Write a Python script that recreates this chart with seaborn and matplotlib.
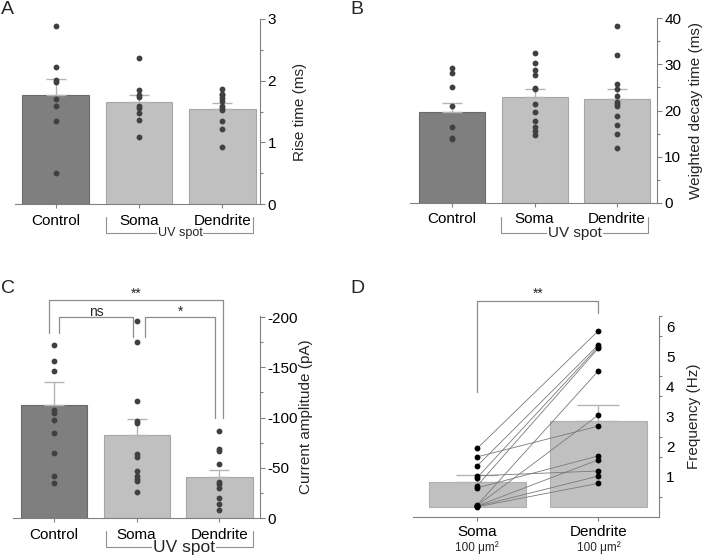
import numpy as np
import pandas as pd
import matplotlib
matplotlib.use('Agg')
import matplotlib.pyplot as plt
from matplotlib.ticker import MultipleLocator, FixedLocator, FuncFormatter
import seaborn as sns

sns.set_theme(style='white')
plt.rcParams['font.family'] = ['Liberation Sans', 'DejaVu Sans']

# ---- data ----
groups = ['Control', 'Soma', 'Dendrite']

# A: rise time (ms)
rise_control = [2.88, 2.22, 2.01, 1.98, 1.70, 1.59, 1.35, 0.50]
rise_soma = [2.36, 1.85, 1.77, 1.74, 1.59, 1.55, 1.48, 1.37, 1.09]
rise_dend = [1.86, 1.79, 1.76, 1.72, 1.67, 1.59, 1.56, 1.53, 1.35, 1.22, 0.92]
rise_mean = [1.77, 1.65, 1.54]
rise_sem = [0.25, 0.11, 0.09]

# B: weighted decay time (ms)
decay_control = [29.3, 28.1, 25.2, 21.0, 16.5, 14.1, 13.8]
decay_soma = [32.5, 30.2, 28.8, 27.8, 24.9, 24.6, 21.5, 19.7, 17.8, 16.5, 15.6, 14.7]
decay_dend = [38.3, 32.1, 25.8, 24.6, 23.1, 21.9, 21.5, 21.0, 18.8, 16.9, 14.8, 11.9]
decay_mean = [19.6, 22.9, 22.5]
decay_sem = [2.0, 1.7, 2.1]

# C: current amplitude (-pA)
amp_control = [171.7, 156.3, 146.3, 107.3, 104.3, 98.0, 84.7, 64.7, 41.7, 35.0]
amp_soma = [195.7, 174.7, 116.3, 96.7, 94.3, 64.0, 61.0, 47.3, 41.7, 39.0, 36.7, 26.0]
amp_dend = [86.7, 69.3, 67.3, 54.0, 36.3, 33.7, 30.0, 19.7, 14.7, 8.3]
amp_mean = [112.7, 83.0, 41.0]
amp_sem = [22.3, 16.0, 7.0]

# D: paired frequency (Hz)
d_groups = ['Soma', 'Dendrite']
freq_soma = [1.94, 1.66, 1.36, 1.03, 0.97, 0.70, 0.63, 0.06, 0.04, 0.03, 0.02, 0.00]
freq_dend = [5.85, 2.68, 5.38, 1.19, 5.32, 5.27, 1.69, 4.52, 3.05, 1.56, 1.02, 0.78]
freq_mean = [0.83, 2.85]
freq_sem = [0.23, 0.53]

bar_fill = ['#7f7f7f', '#c0c0c0', '#c0c0c0']
bar_edge = ['#6a6a6a', '#a6a6a6', '#a6a6a6']
d_fill = ['#c0c0c0', '#c0c0c0']
d_edge = ['#b0b0b0', '#b0b0b0']
axis_col = '#808080'

W, H = 703, 558
fig = plt.figure(figsize=(W / 100, H / 100), dpi=100)


def px_axes(left, top, right, bottom):
    return fig.add_axes([left / W, 1 - bottom / H, (right - left) / W, (bottom - top) / H])


def long_df(lists):
    rows = [(i, v) for i, vals in enumerate(lists) for v in vals]
    return pd.DataFrame(rows, columns=['pos', 'value'])


def style(ax, labels):
    for s in ['left', 'top']:
        ax.spines[s].set_visible(False)
    for s in ['right', 'bottom']:
        ax.spines[s].set_visible(True)
        ax.spines[s].set_color(axis_col)
        ax.spines[s].set_linewidth(0.8)
    ax.yaxis.tick_right()
    ax.yaxis.set_label_position('right')
    ax.tick_params(axis='y', which='both', right=True, left=False, direction='out',
                   color=axis_col, width=0.8, labelsize=11, pad=2, labelcolor='black')
    ax.tick_params(axis='y', which='major', length=3.5)
    ax.tick_params(axis='y', which='minor', length=2.5)
    ax.tick_params(axis='x', bottom=True, direction='out', length=3, color=axis_col,
                   width=0.8, labelsize=11, pad=4, labelcolor='black')
    ax.set_xticks(range(len(labels)))
    ax.set_xticklabels(labels)
    ax.set_xlabel('')
    ax.set_facecolor('white')
    ax.grid(False)


def bar_panel(ax, lists, means, sems, fills, edges, capsize=7.5, pt_color='#404040'):
    idx = list(range(len(means)))
    sns.barplot(x=idx, y=means, color='#c0c0c0', saturation=1, width=0.8,
                linewidth=0.8, ax=ax, zorder=1)
    for p, fc, ec in zip(ax.patches, fills, edges):
        p.set_facecolor(fc)
        p.set_edgecolor(ec)
    ax.errorbar(idx, means, yerr=[np.zeros(len(means)), sems], fmt='none',
                ecolor='#b4b4b4', elinewidth=1, capsize=capsize, capthick=1, zorder=2)
    sns.stripplot(data=long_df(lists), x='pos', y='value', jitter=False,
                  color=pt_color, size=4.2, linewidth=0, ax=ax, zorder=3)


def uv_bracket(ax, x0, x1, ybar, ytop, tx, fs):
    tr = ax.get_xaxis_transform()
    ax.plot([x0, x0, x1, x1], [ytop, ybar, ybar, ytop], transform=tr, clip_on=False,
            color='#909090', lw=0.8)
    ax.text(tx, ybar, 'UV spot', transform=tr, ha='center', va='center', fontsize=fs,
            bbox=dict(facecolor='white', edgecolor='none', pad=0.5))


def sig_bracket(ax, x0, x1, y, y0, y1, label, ty, color='#8c8c8c'):
    ax.plot([x0, x0, x1, x1], [y0, y, y, y1], color=color, lw=0.9, clip_on=False)
    ax.text((x0 + x1) / 2, ty, label, ha='center', va='center', fontsize=10)


# ---- A ----
axA = px_axes(15, 19, 260, 204)
bar_panel(axA, [rise_control, rise_soma, rise_dend], rise_mean, rise_sem, bar_fill, bar_edge)
style(axA, groups)
axA.set_ylim(0, 3)
axA.set_xlim(-0.49, 2.45)
axA.yaxis.set_major_locator(MultipleLocator(1))
axA.yaxis.set_minor_locator(MultipleLocator(0.5))
axA.set_ylabel('Rise time (ms)', fontsize=11)
axA.yaxis.set_label_coords(1.135, 0.5)
uv_bracket(axA, 0.6, 2.37, -0.157, -0.07, 1.49, 9)

# ---- B ----
axB = px_axes(410, 18.3, 656.7, 202.7)
bar_panel(axB, [decay_control, decay_soma, decay_dend], decay_mean, decay_sem, bar_fill, bar_edge)
style(axB, groups)
axB.set_ylim(0, 40)
axB.set_xlim(-0.51, 2.48)
axB.yaxis.set_major_locator(MultipleLocator(10))
axB.yaxis.set_minor_locator(MultipleLocator(5))
axB.set_ylabel('Weighted decay time (ms)', fontsize=11)
axB.yaxis.set_label_coords(1.13, 0.5)
uv_bracket(axB, 0.59, 2.37, -0.166, -0.076, 1.49, 11)

# ---- C ----
axC = px_axes(13.3, 316, 260, 518.3)
bar_panel(axC, [amp_control, amp_soma, amp_dend], amp_mean, amp_sem, bar_fill, bar_edge)
style(axC, groups)
axC.set_ylim(0, 201)
axC.set_xlim(-0.49, 2.49)
axC.yaxis.set_major_locator(FixedLocator([0, 50, 100, 150, 200]))
axC.yaxis.set_minor_locator(MultipleLocator(25))
axC.yaxis.set_major_formatter(FuncFormatter(lambda v, p: '0' if v == 0 else f'-{v:.0f}'))
axC.set_ylabel('Current amplitude (pA)', fontsize=11)
axC.yaxis.set_label_coords(1.16, 0.5)
uv_bracket(axC, 0.63, 2.41, -0.142, -0.062, 1.57, 12.5)
sig_bracket(axC, -0.056, 2.04, 216.7, 184, 100, '**', 223)
sig_bracket(axC, 0.065, 0.96, 200, 184, 180, 'ns', 205)
sig_bracket(axC, 1.10, 1.95, 200, 180, 100, '*', 205)

# ---- D ----
axD = px_axes(413, 316, 659, 516.7)
bar_panel(axD, [freq_soma, freq_dend], freq_mean, freq_sem, d_fill, d_edge,
          capsize=15, pt_color='black')
pairs = pd.DataFrame({
    'cell': list(range(len(freq_soma))) * 2,
    'pos': [0] * len(freq_soma) + [1] * len(freq_dend),
    'value': freq_soma + freq_dend,
})
sns.lineplot(data=pairs, x='pos', y='value', units='cell', estimator=None,
             color='#7a7a7a', lw=0.6, ax=axD, zorder=2.5, legend=False)
style(axD, d_groups)
axD.tick_params(axis='x', pad=3)
axD.set_ylim(-0.33, 6.34)
axD.set_xlim(-0.53, 1.50)
axD.yaxis.set_major_locator(FixedLocator([1, 2, 3, 4, 5, 6]))
axD.yaxis.set_minor_locator(FixedLocator(np.arange(-1 / 3, 6.4, 2 / 3)))
axD.tick_params(axis='y', which='major', length=0, pad=5)
axD.set_ylabel('Frequency (Hz)', fontsize=11)
axD.yaxis.set_label_coords(1.115, 0.5)
for i in range(2):
    axD.text(i, -0.155, '100 μm²', transform=axD.get_xaxis_transform(),
             ha='center', va='center', fontsize=8.5)
sig_bracket(axD, 0, 1, 6.85, 3.82, 6.45, '**', 7.07)

for letter, x, y in [('A', 1, 1), ('B', 350, 1), ('C', 1, 280), ('D', 350, 280)]:
    fig.text(x / W, 1 - y / H, letter, fontsize=14, ha='left', va='top')

fig.savefig('out.png', dpi=100)
